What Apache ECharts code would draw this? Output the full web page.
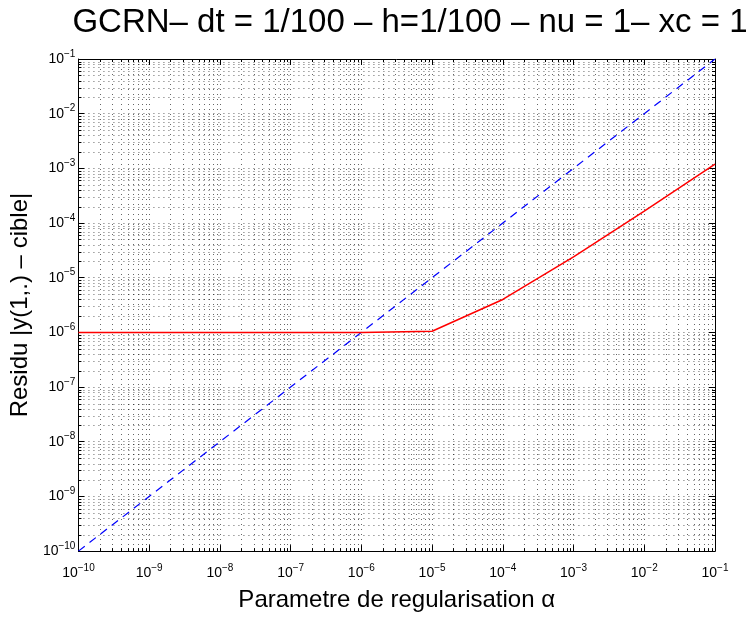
<!DOCTYPE html>
<html>
<head>
<meta charset="utf-8">
<script src="https://cdn.jsdelivr.net/npm/echarts@6/dist/echarts.min.js"></script>
<style>
  html, body { margin: 0; padding: 0; background: #fff; }
  #chart { width: 755px; height: 617px; }
</style>
</head>
<body>
<div id="chart"></div>
<script>
// regularisation parameter alpha (x) and residuals (y)
const alphas = [1e-10, 1e-9, 1e-8, 1e-7, 1e-6, 1e-5, 1e-4, 1e-3, 1e-2, 1e-1]
const residuBlue = [1e-10, 1e-9, 1e-8, 1e-7, 1e-6, 1e-5, 1e-4, 1e-3, 1e-2, 1e-1]
const residuRed = [1e-6, 1e-6, 1e-6, 1e-6, 1e-6, 1.05e-6, 4e-6, 2.4e-5, 1.65e-4, 1.2e-3]
const tickExponents = [-10, -9, -8, -7, -6, -5, -4, -3, -2, -1]

const titleText = 'GCRN\u2013 dt = 1/100 \u2013 h=1/100 \u2013 nu = 1\u2013 xc = 1'
const xName = 'Parametre de regularisation \u03b1'
const yName = 'Residu |y(1,.) \u2013 cible|'

const FONT = '"Liberation Sans", Arial, Helvetica, sans-serif'
const AX_MIN = 1e-10
const AX_MAX = 1e-1

// minor positions 2..9 x 10^k for the MATLAB-like grid
const minorVals = []
for (let k = tickExponents[0]; k < tickExponents[tickExponents.length - 1]; k++) {
  for (let m = 2; m <= 9; m++) minorVals.push(m * Math.pow(10, k))
}

const DOT_COLOR = 'rgba(0,0,0,0.6)'
const gridDot = { color: DOT_COLOR, width: 1, type: [1, 4] }

const labelRich = {
  b: { fontFamily: FONT, fontSize: 14, lineHeight: 20, color: '#000' },
  s: { fontFamily: FONT, fontSize: 10, lineHeight: 10, padding: [0, 0, 10, 0], color: '#000' },
}
const fmtPow = (v) => {
  const e = Math.round(Math.log10(v))
  if (!tickExponents.includes(e)) return ''
  return '{b|10}{s|\u2212' + Math.abs(e) + '}'
}

const baseAxis = {
  type: 'log',
  logBase: 10,
  min: AX_MIN,
  max: AX_MAX,
  axisLine: { show: true, lineStyle: { color: '#000', width: 1 } },
  axisTick: { show: true, inside: true, length: 6, lineStyle: { color: '#000' } },
  minorTick: { show: false },
}

const chart = echarts.init(document.getElementById('chart'))
chart.setOption({
  animation: false,
  backgroundColor: '#fff',
  title: {
    text: titleText,
    left: 405,
    top: 1,
    textAlign: 'center',
    textStyle: { fontFamily: FONT, fontSize: 33, fontWeight: 'normal', color: '#000' },
  },
  grid: { left: 77, right: 40, top: 59, bottom: 55, containLabel: false },
  xAxis: [
    {
      ...baseAxis,
      position: 'bottom',
      axisLabel: { formatter: fmtPow, rich: labelRich, margin: 12, interval: 0, showMinLabel: true, showMaxLabel: true },
      splitLine: { show: true, lineStyle: gridDot },
      name: xName,
      nameLocation: 'middle',
      nameGap: 13,
      nameTextStyle: { fontFamily: FONT, fontSize: 24, color: '#000', verticalAlign: 'top' },
    },
    { ...baseAxis, position: 'top', axisLabel: { show: false }, splitLine: { show: false } },
  ],
  yAxis: [
    {
      ...baseAxis,
      position: 'left',
      axisLabel: { formatter: fmtPow, rich: labelRich, margin: 3, interval: 0, showMinLabel: true, showMaxLabel: true },
      splitLine: { show: true, lineStyle: gridDot },
      name: yName,
      nameLocation: 'middle',
      nameGap: 38,
      nameRotate: 90,
      nameTextStyle: { fontFamily: FONT, fontSize: 24, color: '#000' },
    },
    { ...baseAxis, position: 'right', axisLabel: { show: false }, splitLine: { show: false } },
  ],
  series: [
    {
      // minor grid lines and minor ticks on all four sides
      type: 'custom',
      silent: true,
      xAxisIndex: 0,
      yAxisIndex: 0,
      data: minorVals.map((v) => [v, v]),
      renderItem: (params, api) => {
        const cs = params.coordSys
        const p = api.coord([api.value(0), api.value(1)])
        const px = Math.round(p[0]) + 0.5
        const py = Math.round(p[1]) + 0.5
        const x0 = cs.x, x1 = cs.x + cs.width, y0 = cs.y, y1 = cs.y + cs.height
        const dot = { stroke: DOT_COLOR, lineWidth: 1, lineDash: [1, 4] }
        const tk = { stroke: '#000', lineWidth: 1 }
        const L = 3
        return {
          type: 'group',
          children: [
            { type: 'line', shape: { x1: px, y1: y0, x2: px, y2: y1 }, style: dot },
            { type: 'line', shape: { x1: x0, y1: py, x2: x1, y2: py }, style: dot },
            { type: 'line', shape: { x1: px, y1: y1, x2: px, y2: y1 - L }, style: tk },
            { type: 'line', shape: { x1: px, y1: y0, x2: px, y2: y0 + L }, style: tk },
            { type: 'line', shape: { x1: x0, y1: py, x2: x0 + L, y2: py }, style: tk },
            { type: 'line', shape: { x1: x1, y1: py, x2: x1 - L, y2: py }, style: tk },
          ],
        }
      },
      z: 1,
    },
    {
      type: 'line',
      data: alphas.map((a, i) => [a, residuBlue[i]]),
      symbol: 'none',
      lineStyle: { color: '#0000ff', width: 1.2, type: [8, 6] },
      z: 3,
    },
    {
      type: 'line',
      data: alphas.map((a, i) => [a, residuRed[i]]),
      symbol: 'none',
      lineStyle: { color: '#ff0000', width: 1.5 },
      z: 4,
    },
  ],
})
</script>
</body>
</html>
